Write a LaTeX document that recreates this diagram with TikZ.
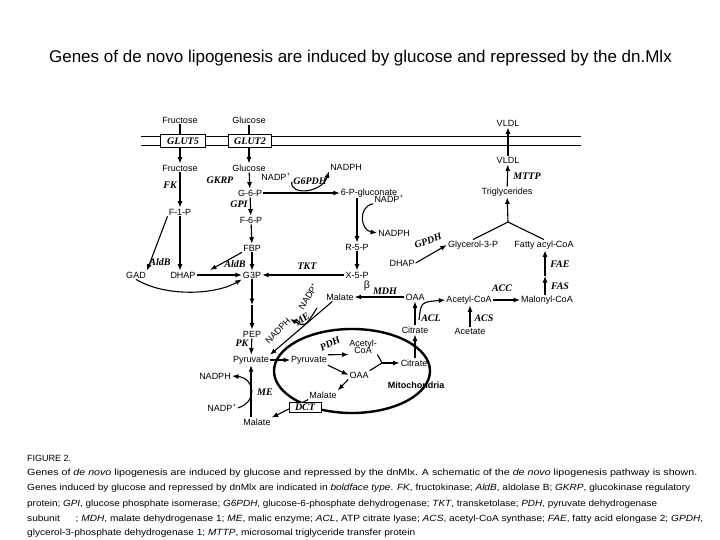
\documentclass[tikz,border=0pt]{standalone}
\usepackage{fontspec}
\usepackage{graphicx}
\setmainfont{Liberation Sans}
\newfontfamily\genefont{Liberation Serif}
\usetikzlibrary{arrows.meta}
\tikzset{
  met/.style={font=\fontsize{9}{10}\selectfont, inner sep=1pt},
  gene/.style={font=\genefont\bfseries\itshape\fontsize{10}{11}\selectfont, inner sep=1pt},
  genebox/.style={gene, draw, line width=1pt, fill=white, minimum height=13pt, inner xsep=3pt},
  arr/.style={line width=1.1pt, -{Latex[length=6.5pt,width=5pt]}},
  ln/.style={line width=1.1pt},
  captext/.style={anchor=base west, inner sep=0pt, font=\fontsize{9}{11}\selectfont},
}
\begin{document}
\begin{tikzpicture}[x=1pt,y=-1pt]
\useasboundingbox[fill=white] (0,0) rectangle (720,540);

\node[font=\fontsize{17}{20}\selectfont] (title) at (360.5,58) {Genes of de novo lipogenesis are induced by glucose and repressed by the dn.Mlx};

% membrane
\draw[line width=1pt] (141,137) -- (581,137);
\draw[line width=1pt] (141,146) -- (581,146);

% metabolites
\node[met] (fruOut) at (180,120) {Fructose};
\node[met] (gluOut) at (249,120) {Glucose};
\node[met] (vldlOut) at (508,123) {VLDL};
\node[met] (fruIn) at (180,168) {Fructose};
\node[met] (gluIn) at (249,168) {Glucose};
\node[met] (f1p) at (180,212) {F-1-P};
\node[met] (nadp1) at (276,177) {NADP\textsuperscript{+}};
\node[met] (nadph1) at (346,167) {NADPH};
\node[met] (g6p) at (250,193) {G-6-P};
\node[met] (f6p) at (251,220) {F-6-P};
\node[met] (pgluc) at (369,193) {6-P-gluconate};
\node[met] (nadp2) at (389,199) {NADP\textsuperscript{+}};
\node[met] (nadph2) at (394,233) {NADPH};
\node[met] (r5p) at (357,247) {R-5-P};
\node[met] (x5p) at (357,275) {X-5-P};
\node[met] (fbp) at (252,248) {FBP};
\node[met] (g3p) at (252,275) {G3P};
\node[met] (gad) at (136,275) {GAD};
\node[met] (dhap1) at (183,275) {DHAP};
\node[met] (dhap2) at (402,263) {DHAP};
\node[met] (gly3p) at (473,245) {Glycerol-3-P};
\node[met] (fatty) at (544,245) {Fatty acyl-CoA};
\node[met] (trig) at (507,192) {Triglycerides};
\node[met] (vldlIn) at (508,160) {VLDL};
\node[met] (malonyl) at (547,300) {Malonyl-CoA};
\node[met] (acoa) at (469,300) {Acetyl-CoA};
\node[met] (acetate) at (470,331) {Acetate};
\node[met] (oaa) at (415,297) {OAA};
\node[met] (citrate) at (415,330) {Citrate};
\node[met] (malate1) at (340,297) {Malate};
\node[met, rotate=58] (nadp3) at (308,296) {NADP\textsuperscript{+}};
\node[met, rotate=45] (nadph3) at (278,331) {NADPH};
\node[met] (pep) at (252,334) {PEP};
\node[met] (pyr1) at (251,360) {Pyruvate};
\node[met] (pyr2) at (309,360) {Pyruvate};
\node[met, align=center, inner sep=0.5pt] (acoaM) at (363,347) {Acetyl-\\[-3pt]CoA};
\node[met] (oaaM) at (359,375) {OAA};
\node[met] (citM) at (414,363) {Citrate};
\node[met] (malateM) at (323,395) {Malate};
\node[met] (malate2) at (257,422) {Malate};
\node[met] (nadph4) at (215,376) {NADPH};
\node[met] (nadp4) at (222,408) {NADP\textsuperscript{+}};

% gene labels
\node[gene] (fk) at (170,185) {FK};
\node[gene] (gkrp) at (220,180) {GKRP};
\node[gene] (g6pdh) at (310,181) {G6PDH};
\node[gene] (gpi) at (239,204) {GPI};
\node[gene] (tkt) at (307,266) {TKT};
\node[gene] (aldB1) at (160,262) {AldB};
\node[gene] (aldB2) at (235,264) {AldB};
\node[gene, rotate=20] (gpdh) at (428,241) {GPDH};
\node[gene] (mttp) at (527,176) {MTTP};
\node[gene] (fae) at (560,264) {FAE};
\node[gene] (fas) at (560,286) {FAS};
\node[gene] (acc) at (502,288) {ACC};
\node[gene] (acs) at (484,318) {ACS};
\node[gene] (acl) at (431,318) {ACL};
\node[met, font=\fontsize{10.5}{10}\selectfont] (beta) at (367,286) {β};
\node[gene] (mdh) at (385,291) {MDH};
\node[gene, rotate=35] (me1) at (302,319) {ME};
\node[gene] (pk) at (242,343) {PK};
\node[gene, rotate=25] (pdh) at (330,344) {PDH};
\node[gene] (me2) at (265,392) {ME};
\node[font=\bfseries\fontsize{9}{10}\selectfont, inner sep=1pt] (mito) at (416,385) {Mitochondria};

% mitochondrion
\draw[line width=2.4pt] (352,371) ellipse [x radius=78, y radius=42];

% coordinates
\coordinate (c1) at (252,305);
\coordinate (c2) at (545,276);
\coordinate (jt) at (508,222);
\coordinate (jm) at (382,363);
\coordinate (aldEnd) at (210,270);
\coordinate (n3s) at (317,308);
\coordinate (aclStart) at (419,320);

% connectors
\draw[arr] (fruOut) -- (fruIn);
\draw[arr] (gluOut) -- (gluIn);
\draw[arr] (vldlIn) -- (vldlOut);
\draw[arr] (fruIn) -- (f1p);
\draw[arr] (gluIn) -- (g6p);
\draw[arr] (g6p) -- (f6p);
\draw[arr] (g6p) -- (pgluc);
\draw[arr] (nadp1.south east) .. controls (290,196) and (322,193) .. (nadph1.south west);
\draw[arr] (pgluc.south -| r5p) -- (r5p);
\draw[arr] (nadp2.south west) .. controls (358,206) and (360,230) .. (nadph2.west);
\draw[arr] (r5p) -- (x5p);
\draw[arr] (f6p) -- (fbp);
\draw[arr] (fbp) -- (g3p);
\draw[arr] (g3p) -- (c1);
\draw[arr] (c1) -- (pep);
\draw[arr] (pep) -- (pyr1);
\draw[arr] (f1p.south west) -- (gad.north east);
\draw[arr] (f1p.south) -- (f1p.south |- dhap1.north);
\draw[arr] (dhap1) -- (g3p);
\draw[arr] (gad.south) .. controls (165,297) and (215,295) .. (g3p.south west);
\draw[arr] (fbp.south west) -- (aldEnd);
\draw[arr] (x5p) -- (g3p);
\draw[arr] (dhap2.east) -- (gly3p.west);
\draw[ln] (gly3p.north) -- (jt) -- (fatty.north);
\draw[arr] (jt) -- (trig);
\draw[arr] (trig) -- (vldlIn);
\draw[arr] (c2 |- malonyl.north) -- (c2);
\draw[arr] (c2) -- (c2 |- fatty.south);
\draw[arr] (acoa) -- (malonyl);
\draw[arr] (acetate) -- (acetate |- acoa.south);
\draw[arr] (citrate) -- (oaa);
\draw[arr] (aclStart) .. controls (421,302) .. (acoa.west);
\draw[arr] (oaa) -- (malate1);
\draw[arr] ([xshift=7pt]malate1.south west) -- (pyr1.north east);
\draw[arr] (n3s) .. controls (305,327) .. (nadph3.east);
\draw[arr] (citM.north -| citrate) -- (citrate);
\draw[arr] (pyr1) -- (pyr2);
\draw[arr] (pyr2.north east) -- (acoaM.south west);
\draw[arr] (pyr2.south east) -- (oaaM.west);
\draw[ln] (acoaM.south east) -- (jm) -- (oaaM.north east);
\draw[arr] (jm) -- (citM);
\draw[arr] (oaaM.south west) -- (malateM.north east);
\draw[arr] (malateM.south west) -- (malate2.north east);
\draw[arr] (malate2.north -| pyr1) -- (pyr1);
\draw[arr] (nadp4.east) .. controls (258,402) and (255,378) .. (nadph4.east);

% transporter boxes
\node[genebox, minimum width=45pt] (glut5) at (183,141.5) {GLUT5};
\node[genebox, minimum width=43pt] (glut2) at (250,141.5) {GLUT2};
\node[genebox, minimum width=32pt, minimum height=10pt, inner ysep=0.5pt] (dct) at (305,407) {DCT};

% caption
\node[captext] (cap1) at (27,461) {FIGURE 2.};
\node[captext] (cap2) at (27,475) {\resizebox{670pt}{\height}{Genes of \textit{de novo} lipogenesis are induced by glucose and repressed by the dnMlx. A schematic of the \textit{de novo} lipogenesis pathway is shown.}};
\node[captext] (cap3) at (27,490) {\resizebox{663pt}{\height}{Genes induced by glucose and repressed by dnMlx are indicated in \textit{boldface type}. \textit{FK}, fructokinase; \textit{AldB}, aldolase B; \textit{GKRP}, glucokinase regulatory}};
\node[captext] (cap4) at (27,506) {\resizebox{630pt}{\height}{protein; \textit{GPI}, glucose phosphate isomerase; \textit{G6PDH}, glucose-6-phosphate dehydrogenase; \textit{TKT}, transketolase; \textit{PDH}, pyruvate dehydrogenase}};
\node[captext] (cap5) at (27,521) {\resizebox{676pt}{\height}{subunit\hspace{14pt}; \textit{MDH}, malate dehydrogenase 1; \textit{ME}, malic enzyme; \textit{ACL}, ATP citrate lyase; \textit{ACS}, acetyl-CoA synthase; \textit{FAE}, fatty acid elongase 2; \textit{GPDH},}};
\node[captext] (cap6) at (27,535) {\resizebox{388pt}{\height}{glycerol-3-phosphate dehydrogenase 1; \textit{MTTP}, microsomal triglyceride transfer protein}};
\end{tikzpicture}
\end{document}
